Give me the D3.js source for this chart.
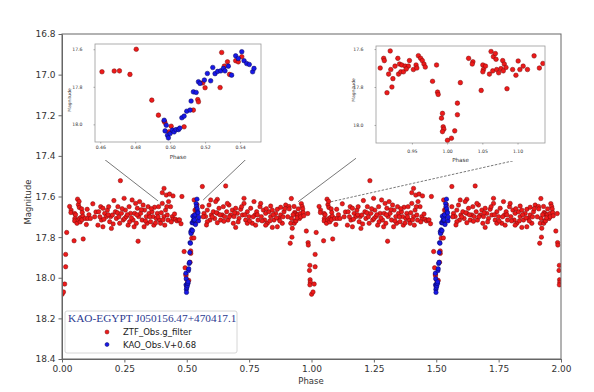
<!DOCTYPE html>
<html>
<head>
<meta charset="utf-8">
<script src="https://cdn.jsdelivr.net/npm/d3@7"></script>
<style>
body { margin: 0; background: #fff; }
svg text { font-family: 'DejaVu Sans', sans-serif; fill: #333; }
</style>
</head>
<body>
<svg id="chart" width="594" height="392"></svg>
<script>
/*********************************************************\
* Light curve of KAO-EGYPT J050156.47+470417.1            *
\*********************************************************/

// one cycle of folded observations: [phase, magnitude]
var ztfObs = [
	[0.0005,18.081],[0.0061,18.070],[0.0108,18.031],[0.0146,17.946],[0.0146,17.885],[0.0188,17.777],
	[0.0305,17.649],[0.0366,17.667],[0.0357,17.679],[0.0484,17.818],[0.0507,17.684],[0.0516,17.708],
	[0.0545,17.690],[0.0507,17.720],[0.0601,17.732],[0.0624,17.613],[0.0657,17.640],[0.0685,17.624],
	[0.0695,17.654],[0.0648,17.715],[0.0704,17.708],[0.0732,17.725],[0.0765,17.703],[0.0789,17.661],
	[0.0812,17.679],[0.0836,17.697],[0.0798,17.715],[0.0850,17.809],[0.0930,17.708],[0.0977,17.738],
	[0.1009,17.663],[0.1033,17.708],[0.1080,17.690],[0.1141,17.708],[0.1235,17.636],[0.1310,17.700],
	[0.1360,17.676],
	[0.144,17.741],[0.147,17.675],[0.155,17.650],[0.158,17.716],[0.164,17.749],[0.164,17.658],
	[0.171,17.683],[0.178,17.699],[0.182,17.667],[0.187,17.650],[0.191,17.724],[0.195,17.699],
	[0.198,17.757],[0.202,17.691],[0.208,17.620],[0.214,17.675],[0.218,17.708],[0.222,17.680],
	[0.224,17.650],[0.231,17.732],[0.234,17.522],[0.238,17.683],[0.245,17.716],[0.249,17.609],
	[0.251,17.708],[0.254,17.667],[0.258,17.699],[0.265,17.741],[0.269,17.650],[0.271,17.724],
	[0.275,17.683],[0.281,17.617],[0.285,17.716],[0.289,17.749],[0.291,17.683],[0.295,17.634],
	[0.298,17.732],[0.302,17.658],[0.305,17.820],[0.307,17.699],[0.311,17.625],[0.315,17.683],
	[0.321,17.716],[0.325,17.642],[0.329,17.749],[0.331,17.667],[0.338,17.699],[0.341,17.732],
	[0.345,17.650],[0.349,17.683],[0.355,17.724],[0.361,17.675],[0.365,17.699],[0.368,17.741],
	[0.371,17.653],[0.378,17.708],[0.382,17.683],[0.387,17.650],[0.391,17.716],[0.395,17.732],
	[0.398,17.680],[0.402,17.634],[0.402,17.581],[0.409,17.699],[0.409,17.560],[0.412,17.741],
	[0.415,17.667],[0.418,17.593],[0.422,17.691],[0.425,17.716],[0.427,17.625],[0.431,17.588],
	[0.435,17.650],[0.442,17.699],[0.445,17.597],[0.445,17.712],[0.451,17.686],[0.455,17.712],
	[0.152,17.700],[0.168,17.712],[0.185,17.690],[0.205,17.735],[0.228,17.700],[0.241,17.660],
	[0.262,17.690],[0.278,17.705],[0.300,17.690],[0.318,17.665],[0.335,17.720],[0.352,17.700],
	[0.358,17.660],[0.375,17.730],[0.385,17.700],[0.405,17.715],[0.420,17.650],[0.438,17.725],
	[0.4610,17.720],[0.4680,17.716],[0.4710,17.715],[0.4770,17.734],[0.4806,17.600],[0.4895,17.871],
	[0.4933,17.951],[0.4966,17.983],[0.4970,17.990],[0.5006,18.010],[0.4994,18.040],[0.5080,18.013],
	[0.5133,17.924],[0.5158,17.868],[0.5162,17.880],[0.5187,17.779],[0.5200,17.805],[0.5286,17.804],
	[0.5295,17.617],[0.5328,17.667],[0.5340,17.734],[0.5375,17.661],[0.5390,17.667],[0.5410,17.640],
	[0.5310,17.690],
	[0.5625,17.551],[0.6560,17.548],[0.6226,17.614],[0.6961,17.752],[0.5625,17.650],[0.5691,17.683],
	[0.5758,17.699],[0.5825,17.667],[0.5892,17.642],[0.5932,17.716],[0.5985,17.691],[0.6065,17.675],
	[0.6119,17.708],[0.6159,17.625],[0.6226,17.683],[0.6293,17.658],[0.6359,17.716],[0.6426,17.691],
	[0.6466,17.650],[0.6520,17.699],[0.6600,17.675],[0.6653,17.716],[0.6693,17.642],[0.6760,17.691],
	[0.6827,17.667],[0.6867,17.732],[0.6894,17.699],[0.6961,17.658],[0.7027,17.683],[0.7094,17.708],
	[0.7161,17.663],[0.7228,17.691],[0.7295,17.634],[0.7361,17.716],[0.7428,17.675],[0.7495,17.699],
	[0.7562,17.658],[0.7629,17.732],[0.7695,17.625],[0.7735,17.691],[0.7802,17.675],[0.7856,17.716],
	[0.7936,17.650],[0.7989,17.699],[0.8069,17.667],[0.8123,17.716],[0.8163,17.683],[0.8230,17.732],
	[0.8297,17.675],[0.8363,17.699],[0.8430,17.667],[0.8497,17.716],[0.8564,17.683],[0.8631,17.663],
	[0.8697,17.708],[0.8764,17.691],[0.8831,17.732],[0.8898,17.675],[0.8965,17.642],
	[0.5959,17.617],[0.6627,17.634],[0.7295,17.609],[0.7963,17.634],[0.8363,17.647],[0.8764,17.653],
	[0.5825,17.724],[0.6226,17.729],[0.7428,17.732],[0.7762,17.741],[0.8163,17.741],[0.8430,17.752],
	[0.8631,17.749],
	[0.566,17.700],[0.579,17.740],[0.602,17.700],[0.619,17.680],[0.633,17.690],[0.649,17.722],
	[0.671,17.700],[0.692,17.680],[0.706,17.725],[0.720,17.650],[0.733,17.690],[0.752,17.720],
	[0.766,17.700],[0.783,17.690],[0.802,17.720],[0.819,17.660],[0.833,17.720],[0.846,17.690],
	[0.860,17.705],[0.873,17.720],[0.886,17.700],[0.893,17.660],
	[0.9099,17.649],[0.9108,17.661],[0.9192,17.610],[0.9169,17.732],[0.9200,17.708],[0.9230,17.756],
	[0.9146,17.830],[0.9216,17.800],[0.9300,17.649],[0.9324,17.679],[0.9310,17.732],[0.9343,17.720],
	[0.9357,17.684],[0.9380,17.720],[0.9404,17.690],[0.9450,17.690],[0.9465,17.661],[0.9521,17.708],
	[0.9559,17.684],[0.9592,17.635],[0.9624,17.649],[0.9648,17.661],[0.9671,17.679],[0.9850,17.684],
	[0.9793,17.770],[0.9864,17.827],[0.9873,17.839],[0.9934,17.939],[0.9920,17.964],[0.9944,18.010],
	[0.9953,18.022],[0.9934,18.035],
	[0.905,17.700],[0.926,17.690],[0.942,17.705],[0.957,17.700],[0.969,17.695]
];

var kaoObs = [
	[0.4966,17.978],[0.4971,18.035],[0.4978,18.005],[0.4985,18.058],[0.4990,18.072],[0.5000,18.049],
	[0.5013,18.031],[0.5023,18.040],[0.5034,18.028],[0.5048,18.028],[0.5055,18.020],[0.5067,17.965],
	[0.5080,17.956],[0.5095,17.930],[0.5114,17.924],[0.5120,17.876],[0.5133,17.827],[0.5149,17.830],
	[0.5162,17.773],[0.5171,17.782],[0.5196,17.764],[0.5213,17.729],[0.5232,17.768],[0.5244,17.697],
	[0.5257,17.730],[0.5272,17.718],[0.5290,17.715],[0.5305,17.702],[0.5314,17.715],[0.5333,17.690],
	[0.5352,17.738],[0.5375,17.635],[0.5390,17.649],[0.5410,17.613],[0.5423,17.661],[0.5438,17.676],
	[0.5453,17.681],[0.5472,17.720],[0.5480,17.702]
];

var cycles = [0, 1];
var xTicks = [0, 0.25, 0.5, 0.75, 1, 1.25, 1.5, 1.75, 2];
var yTicks = [16.8, 17.0, 17.2, 17.4, 17.6, 17.8, 18.0, 18.2, 18.4];
var leftInsetXTicks = [0.46, 0.48, 0.50, 0.52, 0.54];
var rightInsetXTicks = [0.95, 1.00, 1.05, 1.10];
var insetYTicks = [17.6, 17.8, 18.0];
var starName = 'KAO-EGYPT J050156.47+470417.1';
var seriesNames = ['ZTF_Obs.g_filter', 'KAO_Obs.V+0.68'];

var red = { fill: '#ee1a1a', stroke: '#7a0a0a' },
	blue = { fill: '#1818e8', stroke: '#08085a' };

// phase folded twice, as on the plot
function fold(obs)
{
	var out = [];
	cycles.forEach(function (c) {
		obs.forEach(function (d) { out.push({ phase: d[0] + c, mag: d[1] }); });
	});
	return out;
}

var ztf = fold(ztfObs),
	kao = fold(kaoObs);

var svg = d3.select('#chart');

//- - - - - - - - - - - - - - - - - - - - - - - - - - - - - - - - - - - - - - -

var x = d3.scaleLinear().domain([0, 2]).range([62, 561]),
	y = d3.scaleLinear().domain([16.8, 18.4]).range([34, 359]);

svg.append('clipPath').attr('id', 'mainClip')
	.append('rect')
	.attr('x', 62).attr('y', 34).attr('width', 499).attr('height', 325);

function drawDots(g, data, sx, sy, style, r)
{
	g.selectAll(null)
		.data(data)
		.enter()
		.append('circle')
		.attr('cx', function (d) { return sx(d.phase); })
		.attr('cy', function (d) { return sy(d.mag); })
		.attr('r', r)
		.attr('fill', style.fill)
		.attr('stroke', style.stroke)
		.attr('stroke-width', 0.5)
	;
}

var main = svg.append('g').attr('clip-path', 'url(#mainClip)');
drawDots(main, ztf, x, y, red, 2.2);
drawDots(main, kao, x, y, blue, 2.2);

svg.append('rect')
	.attr('x', 62).attr('y', 34).attr('width', 499).attr('height', 325)
	.attr('fill', 'none').attr('stroke', '#666').attr('stroke-width', 1);

var xAxis = svg.append('g')
	.attr('transform', 'translate(0,359)')
	.call(d3.axisBottom(x).tickValues(xTicks).tickFormat(d3.format('.2f'))
		.tickSize(3.5).tickPadding(3).tickSizeOuter(0));

var yAxis = svg.append('g')
	.attr('transform', 'translate(62,0)')
	.call(d3.axisLeft(y).tickValues(yTicks).tickFormat(d3.format('.1f'))
		.tickSize(3.5).tickPadding(3).tickSizeOuter(0));

[xAxis, yAxis].forEach(function (a) {
	a.select('.domain').attr('stroke', '#666');
	a.selectAll('.tick line').attr('stroke', '#666');
	a.selectAll('.tick text').attr('font-size', 9).attr('font-family', null).attr('fill', '#333');
});

svg.append('text')
	.attr('x', 311).attr('y', 384)
	.attr('text-anchor', 'middle').attr('font-size', 8.5)
	.text('Phase');

svg.append('text')
	.attr('transform', 'translate(31,202) rotate(-90)')
	.attr('text-anchor', 'middle').attr('font-size', 8.5)
	.text('Magnitude');

//- - - - - - - - - - - - - - - - - - - - - - - - - - - - - - - - - - - - - - -
// connector lines, from the insets down to the light curve

var connectors = [
	{ from: [95, 152], to: [0.385, 17.622], dash: null },
	{ from: [261, 145], to: [0.566, 17.617], dash: null },
	{ from: [375, 144], to: [0.946, 17.626], dash: null },
	{ from: [548, 153], to: [1.074, 17.627], dash: '2.5,1.5' }
];

svg.selectAll('line.connector')
	.data(connectors)
	.enter()
	.append('line')
	.attr('class', 'connector')
	.attr('x1', function (d) { return d.from[0]; })
	.attr('y1', function (d) { return d.from[1]; })
	.attr('x2', function (d) { return x(d.to[0]); })
	.attr('y2', function (d) { return y(d.to[1]); })
	.attr('stroke', '#555')
	.attr('stroke-width', 0.8)
	.attr('stroke-dasharray', function (d) { return d.dash; })
;

//- - - - - - - - - - - - - - - - - - - - - - - - - - - - - - - - - - - - - - -

function drawInset(id, box, xDomain, yDomain, xTickVals, labelGap, phaseY, magX, magY)
{
	var sx = d3.scaleLinear().domain(xDomain).range([box[0], box[2]]),
		sy = d3.scaleLinear().domain(yDomain).range([box[1], box[3]]),
		w = box[2] - box[0],
		h = box[3] - box[1];

	svg.append('rect')
		.attr('x', box[0] - 20).attr('y', box[1] - 4).attr('width', w + 24).attr('height', h + 22)
		.attr('fill', '#fff');

	svg.append('clipPath').attr('id', id)
		.append('rect')
		.attr('x', box[0]).attr('y', box[1]).attr('width', w).attr('height', h);

	var g = svg.append('g').attr('clip-path', 'url(#' + id + ')');
	var inside = function (d) { return d.phase >= xDomain[0] && d.phase <= xDomain[1]; };
	drawDots(g, ztf.filter(inside), sx, sy, red, 2.3);
	drawDots(g, kao.filter(inside), sx, sy, blue, 2.3);

	svg.append('rect')
		.attr('x', box[0]).attr('y', box[1]).attr('width', w).attr('height', h)
		.attr('fill', 'none').attr('stroke', '#999').attr('stroke-width', 0.8);

	var ax = svg.append('g')
		.attr('transform', 'translate(0,' + box[3] + ')')
		.call(d3.axisBottom(sx).tickValues(xTickVals).tickFormat(d3.format('.2f'))
			.tickSize(1.5).tickPadding(labelGap).tickSizeOuter(0));
	var ay = svg.append('g')
		.attr('transform', 'translate(' + box[0] + ',0)')
		.call(d3.axisLeft(sy).tickValues(insetYTicks).tickFormat(d3.format('.1f'))
			.tickSize(1.5).tickPadding(11).tickSizeOuter(0));

	[ax, ay].forEach(function (a) {
		a.select('.domain').remove();
		a.selectAll('.tick line').attr('stroke', '#777').attr('stroke-width', 0.6);
		a.selectAll('.tick text').attr('font-size', 4.6).attr('font-family', null).attr('fill', '#444');
	});

	svg.append('text')
		.attr('x', (box[0] + box[2]) / 2).attr('y', phaseY)
		.attr('text-anchor', 'middle').attr('font-size', 5.6).attr('fill', '#444')
		.text('Phase');

	svg.append('text')
		.attr('transform', 'translate(' + magX + ',' + magY + ') rotate(-90)')
		.attr('text-anchor', 'middle').attr('font-size', 4.4).attr('fill', '#444')
		.text('Magnitude');
}

drawInset('leftInset', [95, 44, 261, 142], [0.457, 0.552], [17.572, 18.094],
	leftInsetXTicks, 2, 159, 70.5, 100);
drawInset('rightInset', [376, 46, 545, 143], [0.899, 1.139], [17.584, 18.095],
	rightInsetXTicks, 5, 162, 354.5, 90);

//- - - - - - - - - - - - - - - - - - - - - - - - - - - - - - - - - - - - - - -
// legend

var legend = svg.append('g');

legend.append('rect')
	.attr('x', 65).attr('y', 311).attr('width', 172).attr('height', 42)
	.attr('rx', 2)
	.attr('fill', '#fff').attr('stroke', '#ccc').attr('stroke-width', 0.8);

legend.append('text')
	.attr('x', 68).attr('y', 322)
	.style('font-family', "'Liberation Serif', 'DejaVu Serif', serif")
	.style('font-size', '11.3px')
	.style('fill', '#2b3990')
	.text(starName);

var entries = legend.selectAll('g.entry')
	.data(seriesNames)
	.enter()
	.append('g')
	.attr('class', 'entry')
	.attr('transform', function (d, i) { return 'translate(0,' + (332 + i * 12.5) + ')'; });

entries.append('circle')
	.attr('cx', 107).attr('cy', 0).attr('r', 2)
	.attr('fill', function (d, i) { return i ? blue.fill : red.fill; })
	.attr('stroke', function (d, i) { return i ? blue.stroke : red.stroke; })
	.attr('stroke-width', 0.5);

entries.append('text')
	.attr('x', 123).attr('y', 3)
	.attr('font-size', 8.5)
	.style('fill', '#222')
	.text(function (d) { return d; });
</script>
</body>
</html>
